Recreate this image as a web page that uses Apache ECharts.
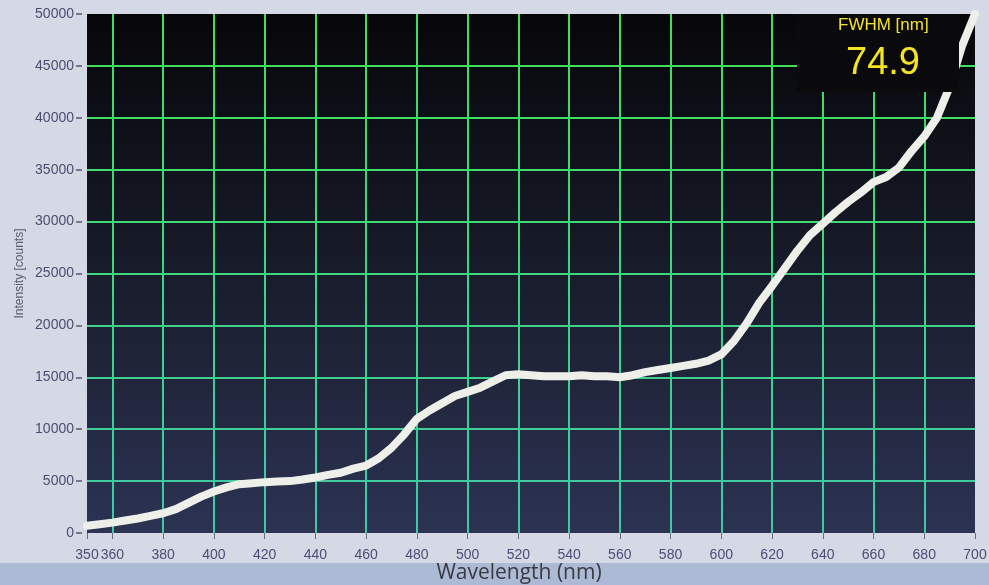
<!DOCTYPE html>
<html>
<head>
<meta charset="utf-8">
<script src="https://cdn.jsdelivr.net/npm/echarts@6/dist/echarts.min.js"></script>
<style>
html,body{margin:0;padding:0;background:#d5d9e5;}
#chart{width:989px;height:585px;}
</style>
</head>
<body>
<div id="chart"></div>
<script>
// Wavelength (nm) sampled every 5 nm
const wavelengths = [350,355,360,365,370,375,380,385,390,395,400,405,410,415,420,425,430,435,440,445,450,455,460,465,470,475,480,485,490,495,500,505,510,515,520,525,530,535,540,545,550,555,560,565,570,575,580,585,590,595,600,605,610,615,620,625,630,635,640,645,650,655,660,665,670,675,680,685,690,695,700];
// Intensity (counts)
const intensity = [700,850,1000,1200,1400,1650,1900,2300,2900,3500,4000,4400,4700,4800,4900,4950,5000,5150,5350,5600,5800,6200,6500,7200,8200,9500,11000,11800,12500,13200,13600,14000,14600,15200,15300,15200,15100,15100,15100,15200,15100,15100,15000,15200,15500,15700,15900,16100,16300,16600,17200,18500,20200,22200,23800,25500,27200,28700,29800,30900,31900,32800,33800,34300,35200,36800,38200,40000,43000,47000,50000];
const xTicks = [350,360,380,400,420,440,460,480,500,520,540,560,580,600,620,640,660,680,700];
const yMin = 0, yMax = 50000, yStep = 5000;
const fwhmLabel = 'FWHM [nm]';
const fwhmValue = '74.9';

const chart = echarts.init(document.getElementById('chart'), null, {renderer:'canvas'});
const gridGrad = {type:'linear', x:0, y:14, x2:0, y2:533, global:true,
  colorStops:[{offset:0,color:'#3fe05c'},{offset:1,color:'#3ec9a4'}]};
const vColors = xTicks.map((v,i)=> (i===0||i===xTicks.length-1) ? 'rgba(0,0,0,0)' : gridGrad);
const hColors = ['rgba(0,0,0,0)','#40caa0','#40cd98','#40d090','#40d388','#40d67e','#40d975','#40dc6c','#40de64','#40e05c','rgba(0,0,0,0)'];

chart.setOption({
  backgroundColor:'#d5d9e5',
  animation:false,
  grid:{left:87, right:14, top:14, bottom:52, show:true, borderWidth:0,
    containLabel:false, outerBoundsMode:'none',
    backgroundColor:{type:'linear', x:0, y:0, x2:0, y2:1,
      colorStops:[{offset:0,color:'#07070a'},{offset:0.45,color:'#161a27'},{offset:1,color:'#2c3353'}]}},
  xAxis:{type:'value', min:350, max:700, offset:3,
    name:'Wavelength (nm)', nameLocation:'middle', nameGap:27, nameMoveOverlap:false,
    nameTextStyle:{fontFamily:'Open Sans', fontSize:21, color:'#3a3a40', padding:[0,24,0,0]},
    axisLine:{show:false},
    axisTick:{show:true, length:6, inside:false, customValues:xTicks, lineStyle:{color:'#6a6a80', width:1}},
    axisLabel:{customValues:xTicks, fontFamily:'Liberation Sans', fontSize:14, color:'#4d4c78', margin:12},
    splitLine:{show:true, lineStyle:{color:vColors, width:2}}
  },
  yAxis:{type:'value', min:yMin, max:yMax, interval:yStep, offset:5,
    name:'Intensity [counts]', nameLocation:'middle', nameGap:56, nameRotate:90, nameMoveOverlap:false,
    nameTextStyle:{fontFamily:'Liberation Sans', fontSize:12, color:'#5a5a70'},
    axisLine:{show:false},
    axisTick:{show:true, length:6, lineStyle:{color:'#55556a', width:1.5}},
    axisLabel:{fontFamily:'Liberation Sans', fontSize:14, color:'#4d4c70', margin:8,
      formatter:(v)=>String(v)},
    splitLine:{show:true, lineStyle:{color:hColors, width:2}}
  },
  series:[{
    type:'line', data:wavelengths.map((w,i)=>[w,intensity[i]]),
    showSymbol:false, symbol:'none', smooth:false,
    lineStyle:{color:'#efefea', width:8, cap:'round', join:'round'},
    z:3
  }],
  graphic:[
    {type:'rect', left:0, top:563, shape:{width:989, height:22}, style:{fill:'#adbad6'}, z:-1, silent:true},
    {type:'rect', left:797, top:14, z:50, shape:{x:0, y:0, width:162, height:78}, style:{fill:'#0a0a0c'}},
    {type:'text', left:838, top:17, z:51, style:{text:fwhmLabel, fontFamily:'Liberation Sans', fontSize:17, fill:'#f2e22a'}},
    {type:'text', left:846, top:45, z:51, style:{text:fwhmValue, fontFamily:'Liberation Sans', fontSize:38, fill:'#f4e421'}}
  ]
});
</script>
</body>
</html>
